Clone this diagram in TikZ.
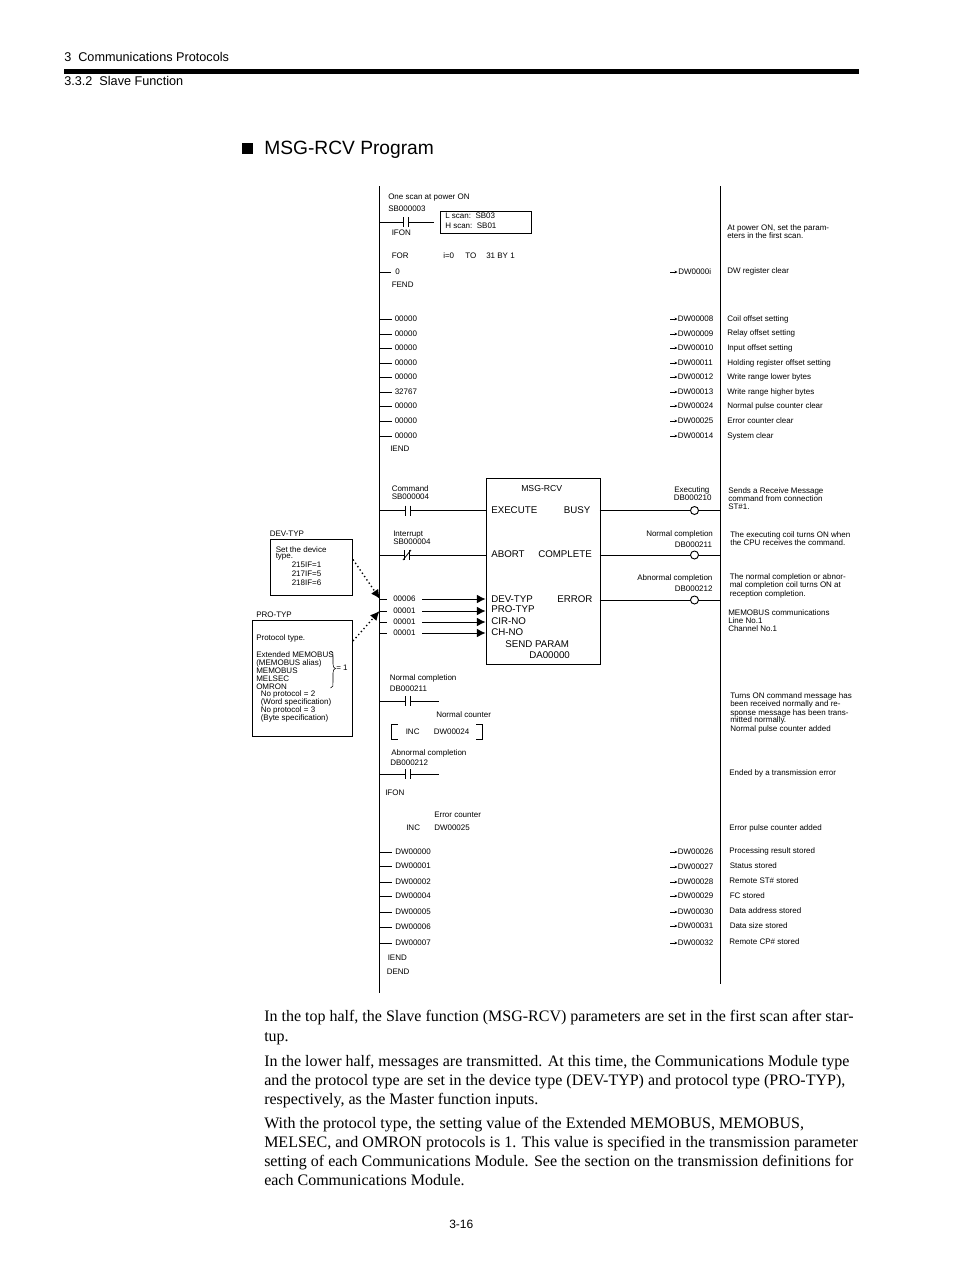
\documentclass[tikz,border=0pt]{standalone}
\usepackage{fontspec}
\setmainfont{Liberation Sans}
\newfontfamily\timesf{Liberation Serif}
\usetikzlibrary{arrows.meta}
\newcounter{tn}
\newcommand\tx[4][txs]{\stepcounter{tn}\node[#1] (t\arabic{tn}) at (#2,#3+2.9) {#4};}
\newcommand\mtx[3]{\stepcounter{tn}\node[txm] (t\arabic{tn}) at (#1,#2+3.4) {#3};}
\newcommand\btx[2]{\stepcounter{tn}\node[txb] (t\arabic{tn}) at (264,#1+4.5) {#2};}
% contact: name, x (left bar), y
\newcommand\contact[3]{\coordinate (#1L) at (#2,#3);\coordinate (#1R) at (#2+5,#3);
 \draw[wire] (#2,#3-5) -- (#2,#3+5) (#2+5,#3-5) -- (#2+5,#3+5);}
\begin{document}
\begin{tikzpicture}[x=0.75pt,y=-0.75pt,
 txs/.style={anchor=base west,inner sep=0pt,font=\fontsize{6}{7}\selectfont},
 txm/.style={anchor=base west,inner sep=0pt,font=\fontsize{7.3}{8}\selectfont},
 txh/.style={anchor=base west,inner sep=0pt,font=\fontsize{9.5}{11}\selectfont},
 txt/.style={anchor=base west,inner sep=0pt,font=\fontsize{14.4}{16}\selectfont},
 txb/.style={anchor=base west,inner sep=0pt,font=\timesf\fontsize{12}{14}\selectfont},
 wire/.style={line width=0.6pt,black},
 rail/.style={line width=0.75pt,black},
 boxed/.style={draw,line width=0.6pt,inner sep=0pt,anchor=north west},
 smallarr/.style={line width=0.35pt,-{Stealth[length=2.2pt,width=2pt]}},
 bigarr/.style={line width=0.6pt,-{Latex[length=6.5pt,width=6.5pt]}},
 dotarr/.style={line width=1pt,dotted,-{Latex[length=7pt,width=6.5pt]}},
 coil/.style={circle,draw,fill=white,line width=0.7pt,minimum size=6pt,inner sep=0pt}]
\useasboundingbox (0,0) rectangle (954,1274);
% header
\tx[txh]{64}{58.5}{3\ \ Communications Protocols}
\tx[txh]{64}{82.5}{3.3.2\ \ Slave Function}
\node[fill=black,inner sep=0pt,minimum width=596pt,minimum height=3.75pt,anchor=north west] (topbar) at (64,69) {};
\node[fill=black,inner sep=0pt,minimum size=8pt,anchor=north west] (bullet) at (242,143) {};
\stepcounter{tn}\node[txt] (title) at (264,154.5) {MSG-RCV Program};
% rails
\coordinate (railT) at (379.5,186);\coordinate (railB) at (379.5,993);
\coordinate (rrT) at (720.5,186);\coordinate (rrB) at (720.5,984);
\draw[rail] (railT) -- (railB);
\draw[rail] (rrT) -- (rrB);
% first scan
\tx{388}{196.5}{One scan at power ON}
\tx{388}{208.5}{SB000003}
\contact{c1}{403.5}{222}
\coordinate (c1a) at (379.5,222);\coordinate (c1b) at (434,222);
\draw[wire] (c1a) -- (c1L) (c1R) -- (c1b);
\node[boxed,minimum width=68.6pt,minimum height=17.2pt] (scanbox) at (440,210.5) {};
\tx{445}{216}{L scan:\ \ SB03}
\tx{445}{226}{H scan:\ \ SB01}
\tx{391.5}{233}{IFON}
\tx{391.5}{256}{FOR}
\tx{443}{256}{i=0}
\tx{465}{256}{TO}
\tx{486}{256}{31 BY 1}
\coordinate (r0a) at (379.5,272);\coordinate (r0b) at (391,272);
\draw[wire] (r0a) -- (r0b);
\tx{395}{272}{0}
\coordinate (a0) at (670,272);
\node[txs] (dwi) at (678,274.9) {DW0000i};
\draw[smallarr] (a0) -- (677.5,272);
\tx{391.5}{285}{FEND}
\tx{727}{228}{At power ON, set the param-}
\tx{727}{236}{eters in the first scan.}
\tx{727}{271}{DW register clear}
% offset rows
\foreach \y/\v/\d/\yn/\n in {
 319/00000/DW00008/319/Coil offset setting,
 334/00000/DW00009/333/Relay offset setting,
 348/00000/DW00010/348/Input offset setting,
 363/00000/DW00011/363/Holding register offset setting,
 377/00000/DW00012/377/Write range lower bytes,
 392/32767/DW00013/392/Write range higher bytes,
 406/00000/DW00024/406/Normal pulse counter clear,
 421/00000/DW00025/421/Error counter clear,
 436/00000/DW00014/436/System clear}{
 \coordinate (ra\y) at (379.5,\y);\coordinate (rb\y) at (392,\y);
 \draw[wire] (ra\y) -- (rb\y);
 \node[txs] (src\y) at (394.5,\y+2.9) {\v};
 \coordinate (aa\y) at (670,\y);
 \node[txs] (dw\y) at (677.5,\y+2.9) {\d};
 \draw[smallarr] (aa\y) -- (677.5,\y);
 \node[txs] (note\y) at (727,\yn+2.9) {\n};
}
\tx{390}{449}{IEND}
% function block
\node[boxed,minimum width=85.5pt,minimum height=139.5pt] (blk) at (485.5,477.5) {};
\mtx{521}{488.5}{\fontsize{6.5}{8}\selectfont MSG-RCV}
\mtx{491}{510.5}{EXECUTE}
\mtx{563.5}{510.5}{BUSY}
\mtx{491}{554.5}{ABORT}
\mtx{538}{554.5}{COMPLETE}
\mtx{491}{599}{DEV-TYP}
\mtx{557}{599}{ERROR}
\mtx{491}{609.5}{PRO-TYP}
\mtx{491}{621.5}{CIR-NO}
\mtx{491}{632.5}{CH-NO}
\mtx{505}{644}{SEND PARAM}
\mtx{529}{655}{DA00000}
% block left inputs
\tx{391.5}{489}{Command}
\tx{391.5}{497}{SB000004}
\contact{c2}{405}{510.5}
\coordinate (c2a) at (379.5,510.5);\coordinate (c2b) at (485.5,510.5);
\draw[wire] (c2a) -- (c2L) (c2R) -- (c2b);
\tx{393}{534}{Interrupt}
\tx{393}{542}{SB000004}
\contact{c3}{404.5}{555}
\coordinate (c3a) at (379.5,555);\coordinate (c3b) at (485.5,555);
\draw[wire] (c3a) -- (c3L) (c3R) -- (c3b);
\draw[wire] (403,560) -- (411,550);
\foreach \y/\v in {599/00006,611/00001,622/00001,633/00001}{
 \coordinate (ia\y) at (379.5,\y);\coordinate (ib\y) at (387,\y);
 \draw[wire] (ia\y) -- (ib\y);
 \node[txs] (iv\y) at (393,\y+2.9) {\v};
 \coordinate (ic\y) at (422,\y);\coordinate (id\y) at (485.5,\y);
 \draw[bigarr] (ic\y) -- (id\y);
}
% block outputs
\foreach \y/\nm in {510.5/o1,555/o2,600/o3}{
 \coordinate (\nm a) at (599.5,\y);\coordinate (\nm b) at (720.5,\y);
 \draw[wire] (\nm a) -- (\nm b);
 \node[coil] (\nm c) at (694.5,\y) {};
}
\tx{674}{489.5}{Executing}
\tx{673.5}{498}{DB000210}
\tx{646}{533.5}{Normal completion}
\tx{674.5}{544.5}{DB000211}
\tx{637}{578}{Abnormal completion}
\tx{674.5}{589}{DB000212}
\tx{728}{491}{Sends a Receive Message}
\tx{728}{498.5}{command from connection}
\tx{728}{506.5}{ST\#1.}
\tx{730}{534.5}{The executing coil turns ON when}
\tx{730}{542.5}{the CPU receives the command.}
\tx{729.5}{577}{The normal completion or abnor-}
\tx{729.5}{585}{mal completion coil turns ON at}
\tx{729.5}{593.5}{reception completion.}
\tx{728}{613}{MEMOBUS communications}
\tx{728}{621}{Line No.1}
\tx{728}{629}{Channel No.1}
% left boxes
\tx{269.5}{533.5}{DEV-TYP}
\node[boxed,minimum width=61.5pt,minimum height=42pt] (devbox) at (269.5,538.5) {};
\tx{275.5}{549.5}{Set the device}
\tx{275.5}{555.5}{type.}
\tx{291.5}{565}{215IF=1}
\tx{291.5}{574}{217IF=5}
\tx{291.5}{583}{218IF=6}
\tx{256}{615}{PRO-TYP}
\node[boxed,minimum width=75pt,minimum height=87pt] (probox) at (251.5,619.5) {};
\tx{256}{638}{Protocol type.}
\tx{256}{654.5}{Extended MEMOBUS}
\tx{256}{663}{(MEMOBUS alias)}
\tx{256}{671}{MEMOBUS}
\tx{256}{678.5}{MELSEC}
\tx{256}{686.5}{OMRON}
\tx{260.5}{694}{No protocol = 2}
\tx{260.5}{702}{(Word specification)}
\tx{260.5}{710}{No protocol = 3}
\tx{260.5}{718}{(Byte specification)}
\draw[line width=0.4pt] (330.5,651) .. controls (333.5,651) and (333,654) .. (333,657) -- (333,664)
  .. controls (333,667) and (334,668) .. (335.5,668.5)
  .. controls (334,669) and (333,670) .. (333,673) -- (333,682)
  .. controls (333,685) and (333.5,688) .. (330.5,688);
\tx{336}{668}{= 1}
\coordinate (d1) at (353,559.5);\coordinate (d2) at (380,599);
\coordinate (d3) at (353,641);\coordinate (d4) at (379.5,611);
\draw[dotarr] (d1) -- (d2);
\draw[dotarr] (d3) -- (d4);
% normal completion
\tx{389.5}{677.5}{Normal completion}
\tx{389.5}{689}{DB000211}
\contact{c4}{405}{701}
\coordinate (c4a) at (379.5,701);\coordinate (c4b) at (439,701);
\draw[wire] (c4a) -- (c4L) (c4R) -- (c4b);
\tx{436}{715}{Normal counter}
\draw[wire] (398,724.5) -- (391.5,724.5) -- (391.5,739) -- (398,739);
\draw[wire] (476,724.5) -- (482,724.5) -- (482,739) -- (476,739);
\tx{405.5}{732}{INC}
\tx{433.5}{732}{DW00024}
\tx{730}{696}{Turns ON command message has}
\tx{730}{704}{been received normally and re-}
\tx{730}{712.5}{sponse message has been trans-}
\tx{730}{720}{mitted normally.}
\tx{730}{728.5}{Normal pulse counter added}
% abnormal completion
\tx{391}{753}{Abnormal completion}
\tx{390}{763}{DB000212}
\contact{c5}{405}{774}
\coordinate (c5a) at (379.5,774);\coordinate (c5b) at (439,774);
\draw[wire] (c5a) -- (c5L) (c5R) -- (c5b);
\tx{729}{773}{Ended by a transmission error}
\tx{385}{793}{IFON}
\tx{434}{815}{Error counter}
\tx{406}{828}{INC}
\tx{434}{828}{DW00025}
\tx{729}{828}{Error pulse counter added}
% store rows
\foreach \y/\v/\yd/\d/\yn/\xn/\n in {
 852/DW00000/852/DW00026/851/729/Processing result stored,
 866/DW00001/867/DW00027/866/729.5/Status stored,
 882/DW00002/882/DW00028/881/729/Remote ST\# stored,
 896/DW00004/896/DW00029/896/729.5/FC stored,
 912/DW00005/912/DW00030/911/729/Data address stored,
 927/DW00006/926/DW00031/926/729.5/Data size stored,
 943/DW00007/943/DW00032/942/729/Remote CP\# stored}{
 \coordinate (sa\y) at (379.5,\y);\coordinate (sb\y) at (392,\y);
 \draw[wire] (sa\y) -- (sb\y);
 \node[txs] (sv\y) at (395,\y+2.9) {\v};
 \coordinate (sc\y) at (670,\yd);
 \node[txs] (sd\y) at (677.5,\yd+2.9) {\d};
 \draw[smallarr] (sc\y) -- (677.5,\yd);
 \node[txs] (sn\y) at (\xn,\yn+2.9) {\n};
}
\tx{387.5}{958}{IEND}
\tx{386.5}{972}{DEND}
% body text
\btx{1017}{In the top half, the Slave function (MSG-RCV) parameters are set in the first scan after star-}
\btx{1037}{tup.}
\btx{1062}{In the lower half, messages are transmitted. At this time, the Communications Module type}
\btx{1081}{and the protocol type are set in the device type (DEV-TYP) and protocol type (PRO-TYP),}
\btx{1100}{respectively, as the Master function inputs.}
\btx{1124}{With the protocol type, the setting value of the Extended MEMOBUS, MEMOBUS,}
\btx{1143}{MELSEC, and OMRON protocols is 1. This value is specified in the transmission parameter}
\btx{1162}{setting of each Communications Module. See the section on the transmission definitions for}
\btx{1181}{each Communications Module.}
\tx[txh]{449}{1226}{\fontsize{9}{11}\selectfont 3-16}
\end{tikzpicture}
\end{document}
